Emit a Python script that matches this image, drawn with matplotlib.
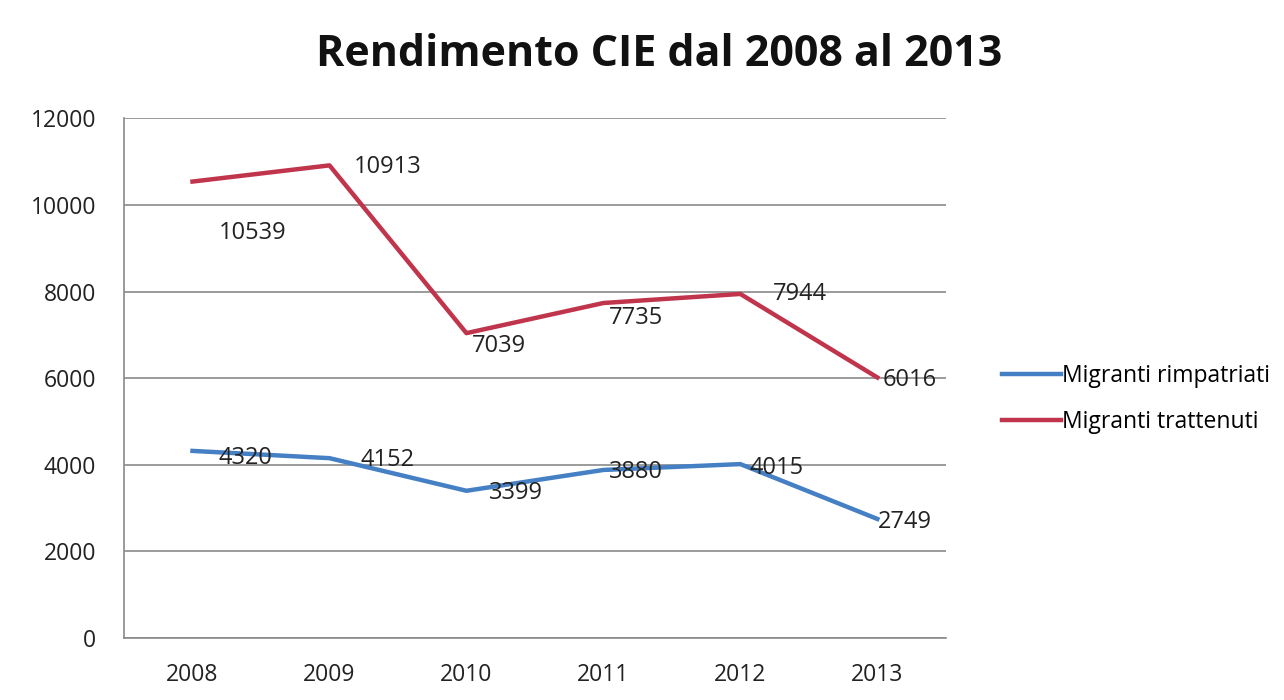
import matplotlib.pyplot as plt

# Dati del grafico
anni = ["2008", "2009", "2010", "2011", "2012", "2013"]
rimpatriati = [4320, 4152, 3399, 3880, 4015, 2749]
trattenuti = [10539, 10913, 7039, 7735, 7944, 6016]

# spostamento delle etichette dai punti (pixel)
off_rimp = [(53, -7), (58, -2), (50, -2), (33, -2), (36, -4), (28, -3)]
off_tratt = [(60, -51), (58, -2), (33, -13), (33, -15), (60, 0), (32, -3)]

plt.rcParams['font.family'] = ['Open Sans', 'DejaVu Sans']

blu = "#4580C4"
rosso = "#C0344C"

fig = plt.figure(figsize=(12.84, 7), dpi=100)
ax = fig.add_axes([0.0966, 0.0886, 0.64, 0.7424])

x = list(range(len(anni)))
ax.plot(x, rimpatriati, color=blu, linewidth=3.2, label="Migranti rimpatriati", solid_joinstyle="round")
ax.plot(x, trattenuti, color=rosso, linewidth=3.2, label="Migranti trattenuti", solid_joinstyle="round")

for i, v in enumerate(rimpatriati):
    ax.annotate(str(v), (i, v), xytext=off_rimp[i], textcoords="offset pixels",
                ha="center", va="center", fontsize=17, color="#222222")
for i, v in enumerate(trattenuti):
    ax.annotate(str(v), (i, v), xytext=off_tratt[i], textcoords="offset pixels",
                ha="center", va="center", fontsize=17, color="#222222")

ax.set_xlim(-0.5, 5.5)
ax.set_ylim(0, 12000)
ax.set_yticks(range(0, 12001, 2000))
ax.set_xticks(x)
ax.set_xticklabels(anni)
ax.grid(axis="y", color="#8a8a8a", linewidth=1.2)
ax.set_axisbelow(True)
ax.tick_params(axis="both", length=0, labelsize=16.5, colors="#222222")
ax.tick_params(axis="y", pad=20)
ax.tick_params(axis="x", pad=18)
for s in ["top", "right"]:
    ax.spines[s].set_visible(False)
for s in ["left", "bottom"]:
    ax.spines[s].set_color("#8a8a8a")
    ax.spines[s].set_linewidth(1.2)

fig.text(0.513, 0.922, "Rendimento CIE dal 2008 al 2013", ha="center", va="center",
         fontsize=31, fontweight="bold", color="#111111")

fig.legend(loc="center left", bbox_to_anchor=(0.764, 0.43), frameon=False,
           fontsize=16.5, handlelength=2.6, handletextpad=0.05, labelspacing=1.0)

fig.savefig("out.png", dpi=100)
